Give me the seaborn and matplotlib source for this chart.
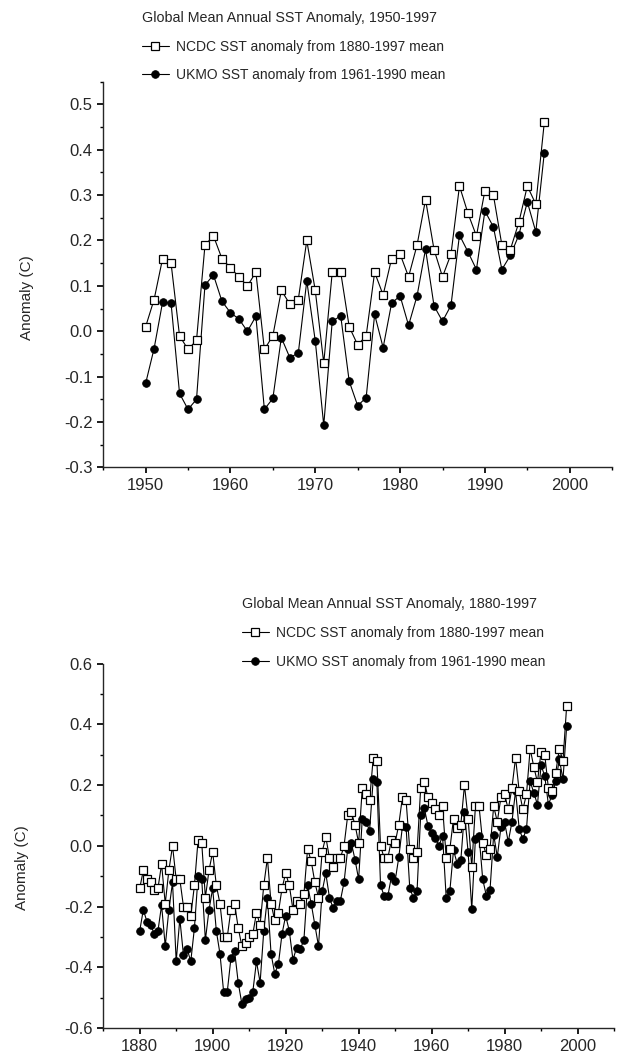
# Global mean annual SST anomaly: NCDC vs UKMO, two panels (1950-1997 and 1880-1997)

import numpy as np
import pandas as pd
import matplotlib
matplotlib.use('Agg')
import matplotlib.pyplot as plt
from matplotlib.lines import Line2D
from matplotlib.ticker import MultipleLocator, FormatStrFormatter
import seaborn as sns

# ------------------------------------------------
# Data
# ------------------------------------------------
years_early = list(range(1880, 1950))
years_recent = list(range(1950, 1998))

ncdc_early = [
    -0.14, -0.08, -0.11, -0.12, -0.145, -0.14, -0.06, -0.19, -0.08, 0.00,
    -0.11, -0.11, -0.20, -0.20, -0.23, -0.13, 0.02, 0.01, -0.17, -0.08,
    -0.02, -0.13, -0.19, -0.30, -0.30, -0.21, -0.19, -0.27, -0.33, -0.32,
    -0.30, -0.29, -0.22, -0.26, -0.13, -0.04, -0.19, -0.245, -0.22, -0.14,
    -0.09, -0.13, -0.21, -0.18, -0.19, -0.16, -0.01, -0.05, -0.12, -0.17,
    -0.02, 0.03, -0.04, -0.07, -0.04, -0.04, 0.00, 0.10, 0.11, 0.07,
    0.01, 0.19, 0.17, 0.15, 0.29, 0.28, 0.00, -0.04, -0.04, 0.02,
]
ukmo_early = [
    -0.28, -0.21, -0.25, -0.26, -0.29, -0.28, -0.195, -0.33, -0.21, -0.12,
    -0.38, -0.24, -0.36, -0.34, -0.38, -0.27, -0.10, -0.11, -0.31, -0.21,
    -0.14, -0.28, -0.355, -0.48, -0.48, -0.37, -0.345, -0.45, -0.52, -0.505,
    -0.50, -0.48, -0.38, -0.45, -0.28, -0.17, -0.355, -0.42, -0.39, -0.29,
    -0.23, -0.28, -0.375, -0.335, -0.34, -0.31, -0.13, -0.19, -0.26, -0.33,
    -0.15, -0.09, -0.17, -0.205, -0.18, -0.18, -0.12, -0.01, 0.01, -0.045,
    -0.11, 0.09, 0.08, 0.05, 0.22, 0.21, -0.13, -0.165, -0.165, -0.10,
]
ncdc_recent = [
    0.01, 0.07, 0.16, 0.15, -0.01, -0.04, -0.02, 0.19, 0.21, 0.16,
    0.14, 0.12, 0.10, 0.13, -0.04, -0.01, 0.09, 0.06, 0.07, 0.20,
    0.09, -0.07, 0.13, 0.13, 0.01, -0.03, -0.01, 0.13, 0.08, 0.16,
    0.17, 0.12, 0.19, 0.29, 0.18, 0.12, 0.17, 0.32, 0.26, 0.21,
    0.31, 0.30, 0.19, 0.18, 0.24, 0.32, 0.28, 0.46,
]
ukmo_recent = [
    -0.115, -0.038, 0.064, 0.062, -0.137, -0.172, -0.150, 0.102, 0.124, 0.066,
    0.041, 0.027, 0.0, 0.033, -0.172, -0.148, -0.014, -0.058, -0.048, 0.111,
    -0.021, -0.207, 0.022, 0.034, -0.110, -0.164, -0.146, 0.037, -0.036, 0.062,
    0.078, 0.013, 0.078, 0.181, 0.056, 0.022, 0.057, 0.212, 0.175, 0.136,
    0.265, 0.230, 0.136, 0.167, 0.212, 0.285, 0.219, 0.393,
]

ncdc_label = 'NCDC SST anomaly from 1880-1997 mean'
ukmo_label = 'UKMO SST anomaly from 1961-1990 mean'

recent = pd.DataFrame({'Year': years_recent, 'NCDC': ncdc_recent, 'UKMO': ukmo_recent})
full = pd.DataFrame({'Year': years_early + years_recent,
                     'NCDC': ncdc_early + ncdc_recent,
                     'UKMO': ukmo_early + ukmo_recent})

# ------------------------------------------------
# Style
# ------------------------------------------------
sns.set_theme(style='ticks')
plt.rcParams['font.family'] = ['Liberation Sans', 'DejaVu Sans']
plt.rcParams['font.size'] = 10
plt.rcParams['axes.linewidth'] = 1.0
plt.rcParams['xtick.major.size'] = 4
plt.rcParams['ytick.major.size'] = 4
plt.rcParams['xtick.minor.size'] = 2.5
plt.rcParams['ytick.minor.size'] = 2.5
plt.rcParams['xtick.labelsize'] = 12
plt.rcParams['ytick.labelsize'] = 12

fig = plt.figure(figsize=(6.41, 10.60), dpi=100)
ax_top = fig.add_axes([0.161, 0.559, 0.794, 0.364])
ax_bot = fig.add_axes([0.161, 0.030, 0.797, 0.344])

sq_kw = dict(color='black', marker='s', markerfacecolor='white', markeredgecolor='black',
             markersize=5.5, markeredgewidth=0.9, linewidth=0.8)
ci_kw = dict(color='black', marker='o', markerfacecolor='black', markeredgecolor='black',
             markersize=5.5, markeredgewidth=0.6, linewidth=0.8)


def draw_panel(ax, df, ylim, ymajor, xlim, xmajor, title, legend_anchor, ylab_pos):
    sns.lineplot(data=df, x='Year', y='UKMO', ax=ax, **ci_kw)
    sns.lineplot(data=df, x='Year', y='NCDC', ax=ax, **sq_kw)
    ax.set_xlim(*xlim)
    ax.set_ylim(*ylim)
    ax.xaxis.set_major_locator(MultipleLocator(xmajor))
    ax.xaxis.set_minor_locator(MultipleLocator(xmajor / 2))
    ax.yaxis.set_major_locator(MultipleLocator(ymajor))
    ax.yaxis.set_minor_locator(MultipleLocator(ymajor / 2))
    ax.set_xticks([t for t in ax.get_xticks() if xlim[0] < t < xlim[1]])
    ax.set_xlabel('')
    ax.set_ylabel('Anomaly (C)', fontsize=11)
    ax.yaxis.set_label_coords(*ylab_pos)
    ax.yaxis.set_major_formatter(FormatStrFormatter('%.1f'))
    sns.despine(ax=ax)
    ax.tick_params(which='both', direction='out', color='black')

    handles = [Line2D([], [], **sq_kw), Line2D([], [], **ci_kw)]
    fig.legend(handles, [ncdc_label, ukmo_label], title=title, title_fontsize=10.3,
               loc='upper left', bbox_to_anchor=legend_anchor, frameon=False,
               alignment='left', borderpad=0, numpoints=1, handlelength=2.0,
               handletextpad=0.5, labelspacing=1.05, fontsize=10)


draw_panel(ax_top, recent, (-0.3, 0.55), 0.1, (1945, 2005), 10,
           'Global Mean Annual SST Anomaly, 1950-1997', (0.210, 0.996), (-0.135, 0.44))
draw_panel(ax_bot, full, (-0.6, 0.6), 0.2, (1870, 2010), 20,
           'Global Mean Annual SST Anomaly, 1880-1997', (0.366, 0.443), (-0.145, 0.44))

plt.savefig('out.png', dpi=100)
